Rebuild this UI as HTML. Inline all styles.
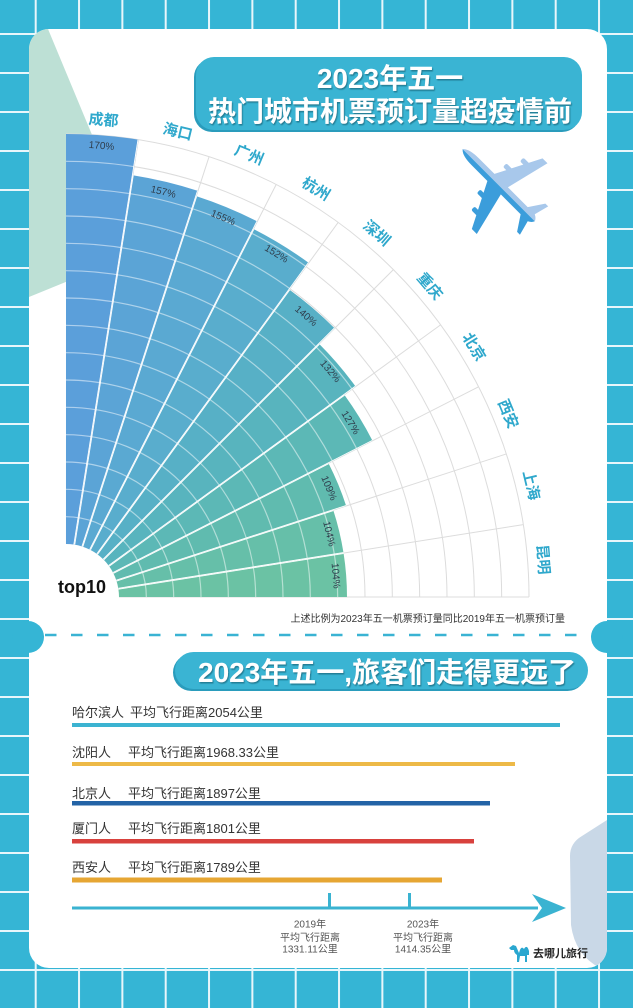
<!DOCTYPE html>
<html><head><meta charset="utf-8">
<style>
html,body{margin:0;padding:0;background:#35b5d5;width:633px;height:1008px;overflow:hidden;}
svg{display:block;}
text{font-family:"Liberation Sans","Noto Sans CJK SC",sans-serif;}
</style></head><body>
<svg width="633" height="1008" viewBox="0 0 633 1008" xmlns="http://www.w3.org/2000/svg">
<defs>
 <pattern id="grid" x="34.7" y="33" width="43.333" height="39" patternUnits="userSpaceOnUse">
   <rect x="0" y="0" width="2" height="39" fill="#e8f6fb"/>
   <rect x="0" y="0" width="43.333" height="2" fill="#e8f6fb"/>
 </pattern>
 <clipPath id="cardClip"><rect x="29" y="29" width="578" height="939" rx="20"/></clipPath>
 <filter id="ts" x="-10%" y="-20%" width="120%" height="140%">
   <feDropShadow dx="1" dy="1.5" stdDeviation="0.6" flood-color="#1b6a80" flood-opacity="0.75"/>
 </filter>
 <g id="rings">
  <path d="M66 516.67 A80.33 80.33 0 0 1 146.33 597"/>
  <path d="M66 489.33 A107.67 107.67 0 0 1 173.67 597"/>
  <path d="M66 462 A135 135 0 0 1 201 597"/>
  <path d="M66 434.67 A162.33 162.33 0 0 1 228.33 597"/>
  <path d="M66 407.33 A189.67 189.67 0 0 1 255.67 597"/>
  <path d="M66 380 A217 217 0 0 1 283 597"/>
  <path d="M66 352.67 A244.33 244.33 0 0 1 310.33 597"/>
  <path d="M66 325.33 A271.67 271.67 0 0 1 337.67 597"/>
  <path d="M66 298 A299 299 0 0 1 365 597"/>
  <path d="M66 270.67 A326.33 326.33 0 0 1 392.33 597"/>
  <path d="M66 243.33 A353.67 353.67 0 0 1 419.67 597"/>
  <path d="M66 216 A381 381 0 0 1 447 597"/>
  <path d="M66 188.67 A408.33 408.33 0 0 1 474.33 597"/>
  <path d="M66 161.33 A435.67 435.67 0 0 1 501.67 597"/>
 </g>
 <mask id="bm" maskUnits="userSpaceOnUse" x="0" y="0" width="633" height="1008">
  <rect width="633" height="1008" fill="#000"/>
  <g fill="none" stroke="#fff">
   <path d="M66 339 A258 258 0 0 1 106.36 342.18" stroke-width="410"/>
   <path d="M66 357 A240 240 0 0 1 103.54 359.95" stroke-width="374" transform="rotate(9 66 597)"/>
   <path d="M66 359.75 A237.25 237.25 0 0 1 103.11 362.67" stroke-width="368.5" transform="rotate(18 66 597)"/>
   <path d="M66 364 A233 233 0 0 1 102.45 366.87" stroke-width="360" transform="rotate(27 66 597)"/>
   <path d="M66 380.5 A216.5 216.5 0 0 1 99.87 383.17" stroke-width="327" transform="rotate(36 66 597)"/>
   <path d="M66 391.5 A205.5 205.5 0 0 1 98.15 394.03" stroke-width="305" transform="rotate(45 66 597)"/>
   <path d="M66 398.5 A198.5 198.5 0 0 1 97.05 400.94" stroke-width="291" transform="rotate(54 66 597)"/>
   <path d="M66 423.2 A173.8 173.8 0 0 1 93.19 425.34" stroke-width="241.6" transform="rotate(63 66 597)"/>
   <path d="M66 430 A167 167 0 0 1 92.12 432.06" stroke-width="228" transform="rotate(72 66 597)"/>
   <path d="M66 430 A167 167 0 0 1 92.12 432.06" stroke-width="228" transform="rotate(81 66 597)"/>
  </g>
 </mask>
</defs>

<rect width="633" height="1008" fill="#35b5d5"/>
<rect width="633" height="1008" fill="url(#grid)"/>

<rect x="29" y="29" width="578" height="939" rx="20" fill="#fff"/>
<g clip-path="url(#cardClip)">
  <polygon points="29,29 48,29 100,154 100,268 29,297" fill="#bde0d5"/>
  <path d="M607,820 L582,836 Q570,843 570,856 L571,925 Q575,955 600,968 L607,968 Z" fill="#c9d8e7"/>
</g>
<circle cx="28" cy="637" r="16" fill="#35b5d5"/>
<circle cx="607" cy="637" r="16" fill="#35b5d5"/>
<line x1="45" y1="635" x2="590" y2="635" stroke="#3ab3d3" stroke-width="2.6" stroke-dasharray="11.5 14.5"/>

<rect x="194" y="59" width="386" height="73" rx="18" fill="#2a9cbc"/>
<rect x="196" y="57" width="386" height="73" rx="18" fill="#3ab4d3"/>
<g filter="url(#ts)" fill="#fff" font-weight="bold" font-size="28" text-anchor="middle">
  <text x="390" y="88">2023年五一</text>
  <text x="390" y="121">热门城市机票预订量超疫情前</text>
</g>

<g transform="translate(498 184.5) rotate(-45)">
  <path d="M0,-50 Q5,-46 5,-32 L5,-10 L50,13 L50,20 L5,9 L5,37 L20,47 L20,51 L5,47 Q3,51 0,52 Z" fill="#a8c8eb"/>
  <rect x="16" y="-9" width="5" height="10" rx="2" fill="#a8c8eb"/>
  <rect x="32" y="-1" width="5" height="10" rx="2" fill="#a8c8eb"/>
  <path d="M0,-50 Q-5,-46 -5,-32 L-5,-10 L-50,13 L-50,20 L-5,9 L-5,37 L-20,47 L-20,51 L-5,47 Q-3,51 0,52 Z" fill="#3b9ddb"/>
  <rect x="-21" y="-9" width="5" height="10" rx="2" fill="#3b9ddb"/>
  <rect x="-37" y="-1" width="5" height="10" rx="2" fill="#3b9ddb"/>
</g>

<g fill="none" stroke="#dcdcdc" stroke-width="1">
  <use href="#rings"/>
  <path d="M66 134 A463 463 0 0 1 529 597"/>
</g>
<g stroke="#dcdcdc" stroke-width="1">
  <line x1="119" y1="597" x2="529" y2="597"/>
  <line x1="119" y1="597" x2="529" y2="597" transform="rotate(-9 66 597)"/>
  <line x1="119" y1="597" x2="529" y2="597" transform="rotate(-18 66 597)"/>
  <line x1="119" y1="597" x2="529" y2="597" transform="rotate(-27 66 597)"/>
  <line x1="119" y1="597" x2="529" y2="597" transform="rotate(-36 66 597)"/>
  <line x1="119" y1="597" x2="529" y2="597" transform="rotate(-45 66 597)"/>
  <line x1="119" y1="597" x2="529" y2="597" transform="rotate(-54 66 597)"/>
  <line x1="119" y1="597" x2="529" y2="597" transform="rotate(-63 66 597)"/>
  <line x1="119" y1="597" x2="529" y2="597" transform="rotate(-72 66 597)"/>
  <line x1="119" y1="597" x2="529" y2="597" transform="rotate(-81 66 597)"/>
</g>

<g fill="none">
  <path d="M66 339 A258 258 0 0 1 106.36 342.18" stroke="#5b9fda" stroke-width="410"/>
  <path d="M66 357 A240 240 0 0 1 103.54 359.95" stroke="#5ba4d6" stroke-width="374" transform="rotate(9 66 597)"/>
  <path d="M66 359.75 A237.25 237.25 0 0 1 103.11 362.67" stroke="#5aa9d2" stroke-width="368.5" transform="rotate(18 66 597)"/>
  <path d="M66 364 A233 233 0 0 1 102.45 366.87" stroke="#59adcd" stroke-width="360" transform="rotate(27 66 597)"/>
  <path d="M66 380.5 A216.5 216.5 0 0 1 99.87 383.17" stroke="#57b0c6" stroke-width="327" transform="rotate(36 66 597)"/>
  <path d="M66 391.5 A205.5 205.5 0 0 1 98.15 394.03" stroke="#58b4be" stroke-width="305" transform="rotate(45 66 597)"/>
  <path d="M66 398.5 A198.5 198.5 0 0 1 97.05 400.94" stroke="#5cb8b6" stroke-width="291" transform="rotate(54 66 597)"/>
  <path d="M66 423.2 A173.8 173.8 0 0 1 93.19 425.34" stroke="#60bbaf" stroke-width="241.6" transform="rotate(63 66 597)"/>
  <path d="M66 430 A167 167 0 0 1 92.12 432.06" stroke="#66bfa9" stroke-width="228" transform="rotate(72 66 597)"/>
  <path d="M66 430 A167 167 0 0 1 92.12 432.06" stroke="#6bc2a4" stroke-width="228" transform="rotate(81 66 597)"/>
</g>

<g mask="url(#bm)">
  <g fill="none" stroke="#fff" stroke-opacity="0.5" stroke-width="1.2">
    <use href="#rings"/>
  </g>
  <g stroke="#fff" stroke-width="1.8">
    <line x1="119" y1="597" x2="529" y2="597" transform="rotate(-9 66 597)"/>
    <line x1="119" y1="597" x2="529" y2="597" transform="rotate(-18 66 597)"/>
    <line x1="119" y1="597" x2="529" y2="597" transform="rotate(-27 66 597)"/>
    <line x1="119" y1="597" x2="529" y2="597" transform="rotate(-36 66 597)"/>
    <line x1="119" y1="597" x2="529" y2="597" transform="rotate(-45 66 597)"/>
    <line x1="119" y1="597" x2="529" y2="597" transform="rotate(-54 66 597)"/>
    <line x1="119" y1="597" x2="529" y2="597" transform="rotate(-63 66 597)"/>
    <line x1="119" y1="597" x2="529" y2="597" transform="rotate(-72 66 597)"/>
    <line x1="119" y1="597" x2="529" y2="597" transform="rotate(-81 66 597)"/>
  </g>
</g>

<g font-size="10" fill="#2f3d4c" text-anchor="middle" dominant-baseline="central">
  <text transform="translate(66 597) rotate(-85.5) translate(452 0) rotate(90)">170%</text>
  <text transform="translate(66 597) rotate(-76.5) translate(416 0) rotate(90)">157%</text>
  <text transform="translate(66 597) rotate(-67.5) translate(410 0) rotate(90)">155%</text>
  <text transform="translate(66 597) rotate(-58.5) translate(402 0) rotate(90)">152%</text>
  <text transform="translate(66 597) rotate(-49.5) translate(369 0) rotate(90)">140%</text>
  <text transform="translate(66 597) rotate(-40.5) translate(347 0) rotate(90)">132%</text>
  <text transform="translate(66 597) rotate(-31.5) translate(333 0) rotate(90)">127%</text>
  <text transform="translate(66 597) rotate(-22.5) translate(284 0) rotate(90)">109%</text>
  <text transform="translate(66 597) rotate(-13.5) translate(270 0) rotate(90)">104%</text>
  <text transform="translate(66 597) rotate(-4.5) translate(270 0) rotate(90)">104%</text>
</g>

<g font-size="15" font-weight="bold" fill="#2fa8cc" text-anchor="middle" dominant-baseline="central">
  <text transform="translate(66 597) rotate(-85.5) translate(478 0) rotate(90)">成都</text>
  <text transform="translate(66 597) rotate(-76.5) translate(478 0) rotate(90)">海口</text>
  <text transform="translate(66 597) rotate(-67.5) translate(478 0) rotate(90)">广州</text>
  <text transform="translate(66 597) rotate(-58.5) translate(478 0) rotate(90)">杭州</text>
  <text transform="translate(66 597) rotate(-49.5) translate(478 0) rotate(90)">深圳</text>
  <text transform="translate(66 597) rotate(-40.5) translate(478 0) rotate(90)">重庆</text>
  <text transform="translate(66 597) rotate(-31.5) translate(478 0) rotate(90)">北京</text>
  <text transform="translate(66 597) rotate(-22.5) translate(478 0) rotate(90)">西安</text>
  <text transform="translate(66 597) rotate(-13.5) translate(478 0) rotate(90)">上海</text>
  <text transform="translate(66 597) rotate(-4.5) translate(478 0) rotate(90)">昆明</text>
</g>

<text x="58" y="593" font-size="18" font-weight="bold" fill="#111">top10</text>
<text x="565" y="622" font-size="10" fill="#333" text-anchor="end">上述比例为2023年五一机票预订量同比2019年五一机票预订量</text>

<rect x="173" y="654" width="413" height="37" rx="18.5" fill="#2a9cbc"/>
<rect x="175" y="652" width="413" height="37" rx="18.5" fill="#3ab4d3"/>
<text x="198" y="682" font-size="28" font-weight="bold" fill="#fff" filter="url(#ts)">2023年五一,旅客们走得更远了</text>

<g font-size="13" fill="#333">
  <text x="72" y="717">哈尔滨人</text><text x="130" y="717">平均飞行距离2054公里</text>
  <text x="72" y="757">沈阳人</text><text x="128" y="757">平均飞行距离1968.33公里</text>
  <text x="72" y="798">北京人</text><text x="128" y="798">平均飞行距离1897公里</text>
  <text x="72" y="833">厦门人</text><text x="128" y="833">平均飞行距离1801公里</text>
  <text x="72" y="872">西安人</text><text x="128" y="872">平均飞行距离1789公里</text>
</g>
<rect x="72" y="723" width="488" height="4" fill="#3bb3d1"/>
<rect x="72" y="762" width="443" height="4" fill="#edb947"/>
<rect x="72" y="801" width="418" height="4.5" fill="#2363a6"/>
<rect x="72" y="839" width="402" height="4.5" fill="#d8413d"/>
<rect x="72" y="877.5" width="370" height="5" fill="#e6a633"/>

<rect x="72" y="906.5" width="466" height="3" fill="#3ab3d1"/>
<polygon points="532,894 566,908 532,922 542,908" fill="#3ab3d1"/>
<rect x="328" y="893" width="3" height="15" fill="#3ab3d1"/>
<rect x="408" y="893" width="3" height="15" fill="#3ab3d1"/>
<g font-size="10" fill="#555" text-anchor="middle">
  <text x="310" y="927.5">2019年</text>
  <text x="310" y="941">平均飞行距离</text>
  <text x="310" y="952.5">1331.11公里</text>
  <text x="423" y="927.5">2023年</text>
  <text x="423" y="941">平均飞行距离</text>
  <text x="423" y="952.5">1414.35公里</text>
</g>

<path d="M509,948 L513,945 L516,946 L519,953 Q521,945 524,949 Q527,944 529,951 L529,955 L527,955 L527,962 L525,962 L525,956 L520,956 L519,962 L517,962 L517,955 Q514,953 514,950 L511,950 Z" fill="#2aa7d0"/>
<text x="533" y="957" font-size="11" font-weight="bold" fill="#222">去哪儿旅行</text>
</svg>
</body></html>
